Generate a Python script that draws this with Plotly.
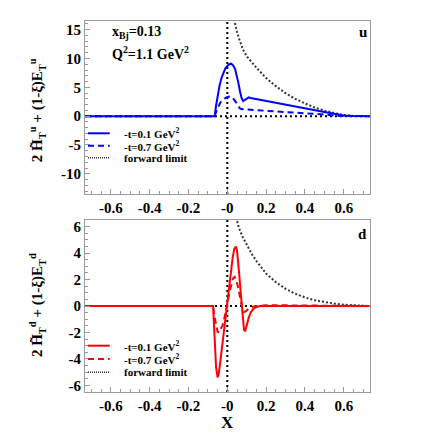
import plotly.graph_objects as go

# ---------------- data ----------------
# u quark, -t = 0.1 GeV^2
u1_x = [-0.733, -0.065, -0.058, -0.05, -0.04, -0.03, -0.02, -0.01, 0.0, 0.01, 0.02, 0.03, 0.04,
        0.05, 0.058, 0.066, 0.074, 0.082, 0.09, 0.1, 0.11, 0.12, 0.15, 0.2, 0.25, 0.3, 0.35, 0.4,
        0.45, 0.5, 0.55, 0.6, 0.65, 0.733]
u1_y = [0, 0, 1.8, 3.6, 5.3, 6.6, 7.6, 8.3, 8.7, 9.0, 9.1, 8.8, 8.2,
        7.0, 5.6, 4.2, 3.1, 2.6, 2.8, 3.1, 3.25, 3.15, 2.95, 2.65, 2.3, 1.95, 1.6, 1.3,
        1.0, 0.72, 0.4, 0.12, 0.02, 0]
# u quark, -t = 0.7 GeV^2
u7_x = [-0.733, -0.065, -0.055, -0.045, -0.035, -0.025, -0.015, -0.005, 0.005, 0.015, 0.025,
        0.035, 0.045, 0.055, 0.065, 0.075, 0.085, 0.1, 0.15, 0.2, 0.3, 0.4, 0.5, 0.55, 0.6, 0.733]
u7_y = [0, 0, 1.0, 1.8, 2.4, 2.8, 3.1, 3.25, 3.35, 3.4, 3.3,
        2.9, 2.4, 1.8, 1.35, 1.2, 1.18, 1.15, 1.05, 0.95, 0.75, 0.55, 0.28, 0.12, 0.03, 0]
# u forward limit
uf_x = [0.03, 0.04, 0.05, 0.06, 0.08, 0.1, 0.125, 0.15, 0.2, 0.25, 0.3, 0.35, 0.4, 0.45,
        0.5, 0.55, 0.6, 0.65, 0.7, 0.733]
uf_y = [17.5, 15.8, 14.6, 13.5, 11.6, 10.4, 9.3, 8.4, 6.6, 5.2, 4.0, 3.0, 2.2, 1.5,
        0.95, 0.5, 0.18, 0.04, 0.0, 0.0]

# d quark, -t = 0.1 GeV^2
d1_x = [-0.733, -0.073, -0.07, -0.065, -0.058, -0.05, -0.044, -0.036, -0.028, -0.02, -0.012,
        -0.004, 0.004, 0.012, 0.02, 0.028, 0.036, 0.044, 0.05, 0.056, 0.062, 0.068, 0.074,
        0.08, 0.086, 0.092, 0.1, 0.11, 0.12, 0.135, 0.15, 0.17, 0.733]
d1_y = [0, 0, -1.0, -3.0, -4.6, -5.4, -5.1, -4.2, -3.2, -2.2, -1.3,
        -0.4, 0.6, 1.7, 2.8, 3.7, 4.3, 4.5, 4.2, 3.4, 2.3, 1.2, 0.2,
        -0.9, -1.8, -1.9, -1.4, -0.9, -0.5, -0.2, -0.08, 0, 0]
# d quark, -t = 0.7 GeV^2
d7_x = [-0.733, -0.073, -0.066, -0.058, -0.05, -0.042, -0.034, -0.026, -0.018, -0.01, -0.002,
        0.006, 0.014, 0.022, 0.03, 0.038, 0.046, 0.054, 0.062, 0.07, 0.078, 0.086, 0.095,
        0.11, 0.13, 0.2, 0.3, 0.4, 0.733]
d7_y = [0, 0, -0.8, -1.5, -1.95, -2.0, -1.8, -1.5, -1.1, -0.6, 0.0,
        0.6, 1.2, 1.75, 2.1, 2.2, 2.0, 1.5, 0.9, 0.3, -0.2, -0.45, -0.4,
        -0.2, -0.05, 0.06, 0.05, 0.0, 0]
# d forward limit
df_x = [0.04, 0.05, 0.06, 0.08, 0.1, 0.125, 0.15, 0.2, 0.25, 0.3, 0.35, 0.4, 0.45, 0.5,
        0.55, 0.6, 0.65, 0.7, 0.733]
df_y = [7.0, 6.4, 5.9, 5.2, 4.6, 3.95, 3.4, 2.45, 1.8, 1.3, 0.93, 0.65, 0.44, 0.3,
        0.18, 0.1, 0.05, 0.02, 0.0]

x_tickvals = [-0.6, -0.4, -0.2, 0.0, 0.2, 0.4, 0.6]
x_ticktext = ["-0.6", "-0.4", "-0.2", "-0", "0.2", "0.4", "0.6"]
yu_tickvals = [15, 10, 5, 0, -5, -10]
yu_ticktext = ["15", "10", "5", "0", "-5", "-10"]
yd_tickvals = [6, 4, 2, 0, -2, -4, -6]
yd_ticktext = ["6", "4", "2", "0", "-2", "-4", "-6"]

legend_labels = ["-t=0.1 GeV<sup>2</sup>", "-t=0.7 GeV<sup>2</sup>", "forward limit"]

# ---------------- figure ----------------
FONT = "Liberation Serif, Times New Roman, serif"
BLUE = "#0000ff"
RED = "#ff0000"
FWD = "#333333"
FRAME = "#9a9a9a"
DASH = "6px,4px"
FDOT = "2px,2px"

fig = go.Figure()

def line(x, y, color, dash, xa, ya, width=2):
    fig.add_trace(go.Scatter(x=x, y=y, mode="lines", xaxis=xa, yaxis=ya,
                             line=dict(color=color, dash=dash, width=width),
                             showlegend=False, hoverinfo="skip"))

# reference lines (drawn first, under curves)
for xr, yr in [("x", "y"), ("x2", "y2")]:
    fig.add_shape(type="line", xref=f"{xr} domain", yref=yr, x0=0, x1=1, y0=0, y1=0,
                  line=dict(color="black", dash="2px,3px", width=2), layer="below")
    fig.add_shape(type="line", xref=xr, yref=f"{yr} domain", x0=0, x1=0, y0=0, y1=1,
                  line=dict(color="black", dash="2px,3px", width=2), layer="below")

line(uf_x, uf_y, FWD, FDOT, "x", "y")
line(u7_x, u7_y, BLUE, DASH, "x", "y")
line(u1_x, u1_y, BLUE, "solid", "x", "y")

line(df_x, df_y, FWD, FDOT, "x2", "y2")
line(d7_x, d7_y, RED, DASH, "x2", "y2")
line(d1_x, d1_y, RED, "solid", "x2", "y2")

tickfont = dict(family=FONT, size=15, color="black", weight="bold")
common_x = dict(range=[-0.733, 0.735], tickmode="array", tickvals=x_tickvals, ticktext=x_ticktext,
                ticks="inside", ticklen=5, tickcolor=FRAME, tickwidth=1,
                minor=dict(tickmode="linear", tick0=0, dtick=0.05, ticks="inside", ticklen=3,
                           tickcolor=FRAME, tickwidth=1),
                showline=True, mirror=True, linecolor=FRAME, linewidth=1, automargin=False,
                showgrid=False, zeroline=False, tickfont=tickfont)
common_y = dict(ticks="inside", ticklen=5, tickcolor=FRAME, tickwidth=1, tickmode="array",
                showline=True, mirror=True, linecolor=FRAME, linewidth=1, automargin=False,
                showgrid=False, zeroline=False, tickfont=tickfont)

# the page places the figure 8px in from the top-left corner
fig.update_layout(
    width=428, height=428,
    margin=dict(l=77, r=66, t=13, b=44),
    paper_bgcolor="white", plot_bgcolor="white",
    showlegend=False,
    xaxis=dict(domain=[0, 1], anchor="y", **common_x),
    xaxis2=dict(domain=[0, 1], anchor="y2", **common_x),
    yaxis=dict(domain=[0.5337, 1], anchor="x", range=[-13.5, 16.5],
               tickvals=yu_tickvals, ticktext=yu_ticktext,
               minor=dict(tickmode="linear", tick0=0, dtick=1, ticks="inside", ticklen=3,
                          tickcolor=FRAME, tickwidth=1),
               **common_y),
    yaxis2=dict(domain=[0, 0.4636], anchor="x2", range=[-6.5, 6.5],
                tickvals=yd_tickvals, ticktext=yd_ticktext,
                minor=dict(tickmode="linear", tick0=0, dtick=0.5, ticks="inside", ticklen=3,
                           tickcolor=FRAME, tickwidth=1),
                **common_y),
)

def ann(text, x, y, size=14, xanchor="left", yanchor="middle", angle=0):
    fig.add_annotation(text=text, x=x, y=y, xref="paper", yref="paper", showarrow=False,
                       xanchor=xanchor, yanchor=yanchor, textangle=angle,
                       font=dict(family=FONT, size=size, color="black", weight="bold"))

ann("x<sub>Bj</sub>=0.13", 0.0868, 0.9677)
ann("Q<sup>2</sup>=1.1 GeV<sup>2</sup>", 0.0868, 0.9137)
ann("u", 0.974, 0.970, size=15, xanchor="center")
ann("d", 0.974, 0.4259, size=15, xanchor="center")
ann("X", 0.501, -0.081, size=17, xanchor="center")
ann("2 H\u0303<sub>T</sub><sup>u</sup> + (1-\u03be)E<sub>T</sub><sup>u</sup>", -0.168, 0.76,
    size=15, xanchor="center", angle=-90)
ann("2 H\u0303<sub>T</sub><sup>d</sup> + (1-\u03be)E<sub>T</sub><sup>d</sup>", -0.168, 0.2345,
    size=15, xanchor="center", angle=-90)

# legends (drawn as key samples + text)
styles = [("solid", 2), (DASH, 2), ("1px,1px", 1.5)]
rows_u = [0.6973, 0.6639, 0.6315]
rows_d = [0.1248, 0.0889, 0.0531]
for rows, col in [(rows_u, BLUE), (rows_d, RED)]:
    for i, (lab, (dash, w), ry) in enumerate(zip(legend_labels, styles, rows)):
        c = col if i < 2 else FWD
        fig.add_shape(type="line", xref="paper", yref="paper", x0=0.0105, x1=0.0868,
                      y0=ry, y1=ry, line=dict(color=c, dash=dash, width=w))
        ann(lab, 0.131, ry, size=11)

fig.write_html("out.html")
